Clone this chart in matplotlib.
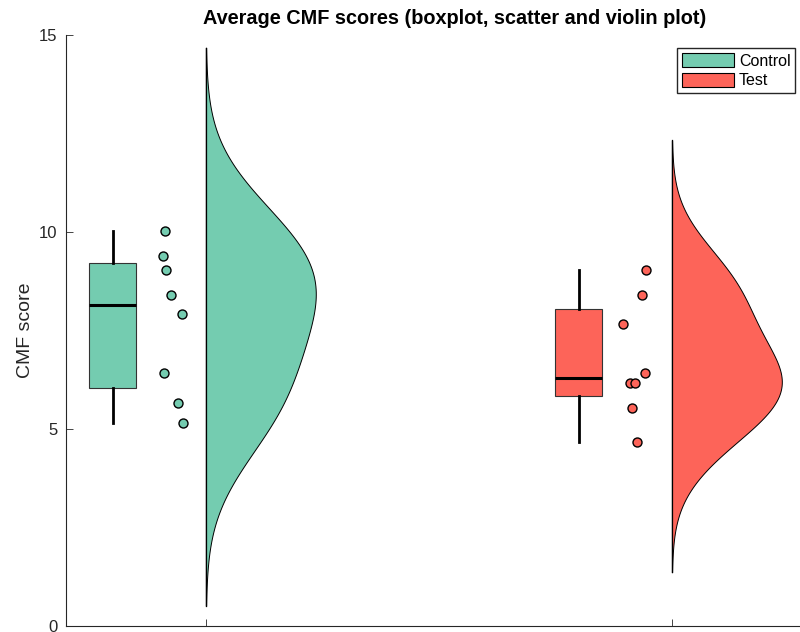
import numpy as np
import matplotlib
matplotlib.use("Agg")
import matplotlib.pyplot as plt
from matplotlib.patches import Patch

plt.rcParams['font.family'] = ['Liberation Sans', 'DejaVu Sans']

# values
groups = ["Control", "Test"]
positions = [1, 2]
control = [10.03, 9.40, 9.03, 8.40, 7.91, 6.41, 5.67, 5.16]
test = [9.03, 8.41, 7.66, 6.41, 6.16, 6.16, 5.54, 4.66]
# horizontal jitter of the dots (offset from the group position)
control_jit = [-0.087, -0.092, -0.085, -0.075, -0.052, -0.089, -0.060, -0.049]
test_jit = [-0.055, -0.063, -0.104, -0.057, -0.090, -0.079, -0.086, -0.075]
colors = ["#74CCB0", "#FD6459"]

data = [control, test]
jits = [control_jit, test_jit]


def ksdensity(x):
    # gaussian kernel, matlab style bandwidth and support
    x = np.asarray(x)
    sig = np.median(np.abs(x - np.median(x))) / 0.6745
    bw = sig * (4 / (3 * len(x))) ** 0.2
    grid = np.linspace(x.min() - 3 * bw, x.max() + 3 * bw, 200)
    dens = np.exp(-0.5 * ((grid[:, None] - x[None, :]) / bw) ** 2).sum(axis=1)
    return grid, dens


fig = plt.figure(figsize=(8, 6.32), dpi=100)
ax = fig.add_axes([0.0825, 0.0095, 0.9175, 0.9351])

for pos, vals, jit, col in zip(positions, data, jits, colors):
    # half violin
    grid, dens = ksdensity(vals)
    dens = dens / dens.max() * 0.236
    ax.fill_betweenx(grid, pos, pos + dens, facecolor=col, edgecolor='black',
                     linewidth=0.7, zorder=2)
    ax.plot([pos, pos], [grid[0], grid[-1]], color='black', lw=0.9, zorder=3)

    # box, quartiles like matlab (midpoint)
    q1 = np.percentile(vals, 25, method='midpoint')
    q3 = np.percentile(vals, 75, method='midpoint')
    stats = [dict(med=np.median(vals), q1=q1, q3=q3,
                  whislo=min(vals), whishi=max(vals), fliers=[])]
    ax.bxp(stats, positions=[pos - 0.2], widths=0.1, patch_artist=True,
           showcaps=False,
           boxprops=dict(facecolor=col, edgecolor='#333333', linewidth=0.8),
           medianprops=dict(color='black', linewidth=2.2),
           whiskerprops=dict(color='black', linewidth=2), manage_ticks=False)

    # dots
    ax.scatter(pos + np.array(jit), vals, s=42, color=col, edgecolor='black',
               linewidth=1, zorder=4)

ax.set_xlim(0.7, 2.275)
ax.set_ylim(0, 15)
ax.set_xticks(positions)
ax.set_xticklabels([])
ax.set_yticks([0, 5, 10, 15])
ax.tick_params(direction='in', length=5, width=0.6, colors='#262626',
               labelsize=12, pad=6)
for s in ['top', 'right']:
    ax.spines[s].set_visible(False)
for s in ['left', 'bottom']:
    ax.spines[s].set_color('#262626')
    ax.spines[s].set_linewidth(0.8)

ax.set_ylabel("CMF score", fontsize=14, color='#262626', labelpad=4)
ax.set_title("Average CMF scores (boxplot, scatter and violin plot)",
             fontsize=14.3, fontweight='bold', pad=8, x=0.53)

handles = [Patch(facecolor=c, edgecolor='black', linewidth=0.8, label=g)
           for g, c in zip(groups, colors)]
ax.legend(handles=handles, loc='upper right', bbox_to_anchor=(0.998, 0.983),
          fontsize=11.5, fancybox=False, edgecolor='#262626', framealpha=1,
          handlelength=3.25, handleheight=1.0, borderpad=0.3, labelspacing=0.25,
          handletextpad=0.3, borderaxespad=0.2)

fig.savefig("out.png", dpi=100)
